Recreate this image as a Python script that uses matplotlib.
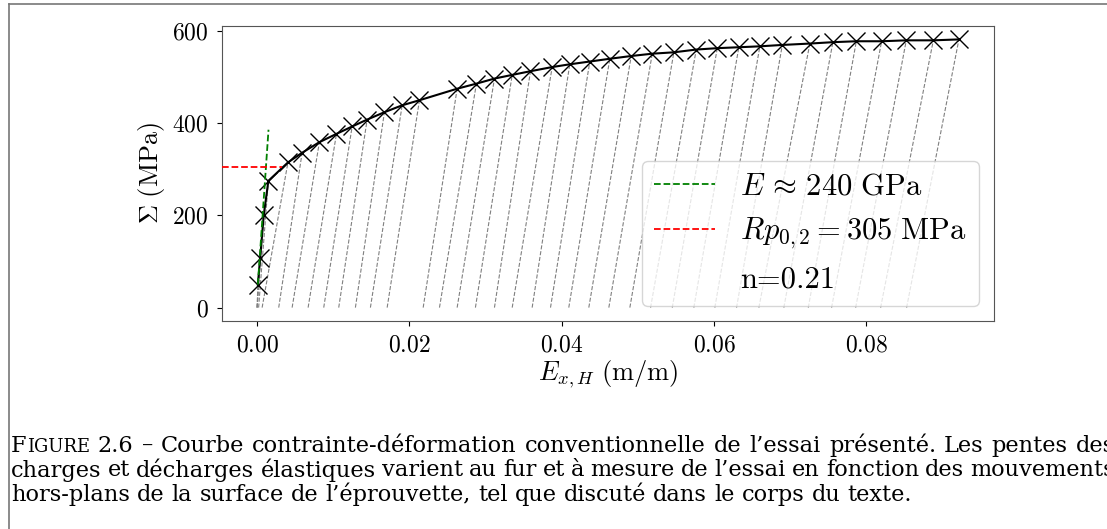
import matplotlib
matplotlib.use("Agg")
import matplotlib.pyplot as plt
from matplotlib.lines import Line2D
import numpy as np

plt.rcParams["mathtext.fontset"] = "cm"
plt.rcParams["font.family"] = "cmr10"
plt.rcParams["axes.formatter.use_mathtext"] = True

# Stress-strain points
strain = [0.0001, 0.0004, 0.00087, 0.00148, 0.00405, 0.00591, 0.00818, 0.01042,
          0.01248, 0.01445, 0.01672, 0.01905, 0.02132, 0.02627, 0.0288, 0.03117,
          0.0335, 0.0359, 0.03875, 0.04106, 0.04369, 0.04632, 0.04913, 0.05189,
          0.05473, 0.05767, 0.06043, 0.06326, 0.06602, 0.06897, 0.07259, 0.07561,
          0.07869, 0.08201, 0.08525, 0.0888, 0.09216]
stress = [50, 107, 200, 275, 315, 336, 359, 377, 393, 408, 424, 439, 450, 475,
          486, 497, 505, 513, 522, 528, 534, 540, 546, 551, 554, 560, 563, 565,
          567, 570, 573, 576, 578, 578, 580, 580, 582]
# strain where each elastic unloading line reaches zero stress
strain_zero = [0.0, 0.0, 0.0, 0.0002, 0.00066, 0.00284, 0.0046, 0.0067, 0.00875,
               0.01072, 0.01291, 0.01488, 0.01708, 0.02181, 0.02395, 0.02627,
               0.02867, 0.03117, 0.0335, 0.03612, 0.03853, 0.04093, 0.04356,
               0.04619, 0.04895, 0.05167, 0.05452, 0.05735, 0.06011, 0.06296,
               0.06589, 0.06917, 0.07238, 0.07544, 0.0786, 0.08188, 0.08529]

E_mod = 240000.0      # MPa
Rp02 = 305.0          # MPa
E_range = [0.0001, 0.0015]
Rp_end = 0.0033

xticks = [0, 0.02, 0.04, 0.06, 0.08]
xtick_labels = ["0.00", "0.02", "0.04", "0.06", "0.08"]
yticks = [0, 200, 400, 600]
ytick_labels = ["0", "200", "400", "600"]

W, H = 1107, 529
fig = plt.figure(figsize=(W / 100, H / 100), dpi=100)
ax = fig.add_axes([222 / W, 1 - 321 / H, (994 - 222) / W, (321 - 26) / H])

# elastic unloading lines
for x0, x1, s in zip(strain_zero, strain, stress):
    ax.plot([x0, x1], [0, s], "--", color="grey", lw=0.8, zorder=1)

ax.plot(strain, stress, "k-", lw=1.5, marker="x", markersize=13, mew=1.0, zorder=3)

xE = np.array(E_range)
yE = stress[0] + E_mod * (xE - strain[0])
ax.plot(xE, yE, "--", color="green", lw=1.3, zorder=4)

xlim = ax.get_xlim()
ylim = ax.get_ylim()
ax.plot([xlim[0], Rp_end], [Rp02, Rp02], "--", color="red", lw=1.3, zorder=4)
ax.set_xlim(xlim)
ax.set_ylim(ylim)

ax.set_xticks(xticks)
ax.set_xticklabels(["$" + s + "$" for s in xtick_labels])
ax.set_yticks(yticks)
ax.set_yticklabels(["$" + s + "$" for s in ytick_labels])
ax.tick_params(labelsize=17, pad=6)
ax.set_xlabel(r"$E_{x,H}\ \mathrm{(m/m)}$", fontsize=19, labelpad=2)
ax.set_ylabel(r"$\Sigma\ \mathrm{(MPa)}$", fontsize=19, labelpad=4)
for sp in ax.spines.values():
    sp.set_color("#555555")

handles = [Line2D([], [], ls="--", color="green", lw=1.3),
           Line2D([], [], ls="--", color="red", lw=1.3),
           Line2D([], [], ls="none")]
labels = [r"$E\,\approx\,240\ \mathrm{GPa}$", r"$Rp_{0,2} = 305\ \mathrm{MPa}$", "n=0.21"]
ax.legend(handles, labels, loc="lower right", prop={"family": "cmr10", "size": 22})

# page frame
fig.add_artist(Line2D([9 / W, 9 / W], [0, 1 - 4 / H], color="#777777", lw=1.2))
fig.add_artist(Line2D([9 / W, 1], [1 - 4 / H, 1 - 4 / H], color="#777777", lw=1.2))

# caption, justified, with small caps "Figure"
cap_font = "DejaVu Serif"
fs = 16.2
sc = fs * 0.8
r = fig.canvas.get_renderer()
line1 = "2.6 – Courbe contrainte-déformation conventionnelle de l’essai présenté. Les pentes des"
line2 = "charges et décharges élastiques varient au fur et à mesure de l’essai en fonction des mouvements"
line3 = "hors-plans de la surface de l’éprouvette, tel que discuté dans le corps du texte."
cap_lines = [
    ([[("F", fs), ("IGURE", sc)]] + [[(w, fs)] for w in line1.split(" ")], True),
    ([[(w, fs)] for w in line2.split(" ")], True),
    ([[(w, fs)] for w in line3.split(" ")], False),
]
baselines = [451.7, 476.5, 500.7]
x_left, x_right = 11, 1115


def put(x, yb, s, size):
    t = fig.text(x / W, 1 - yb / H, s, fontsize=size, family=cap_font, va="baseline")
    return t, t.get_window_extent(r).width


probe, w1 = put(0, -100, "a a", fs)
probe2, w2 = put(0, -100, "aa", fs)
space_w = w1 - w2
probe.remove()
probe2.remove()

for (words, justify), yb in zip(cap_lines, baselines):
    widths = []
    for word in words:
        w = 0
        for s, size in word:
            t, tw = put(0, -100, s, size)
            t.remove()
            w += tw
        widths.append(w)
    gap = space_w
    if justify:
        gap = max(space_w * 0.8, (x_right - x_left - sum(widths)) / (len(words) - 1))
    x = x_left
    for word, w in zip(words, widths):
        xx = x
        for s, size in word:
            t, tw = put(xx, yb, s, size)
            xx += tw
        x += w + gap

fig.savefig("out.png", dpi=100)
